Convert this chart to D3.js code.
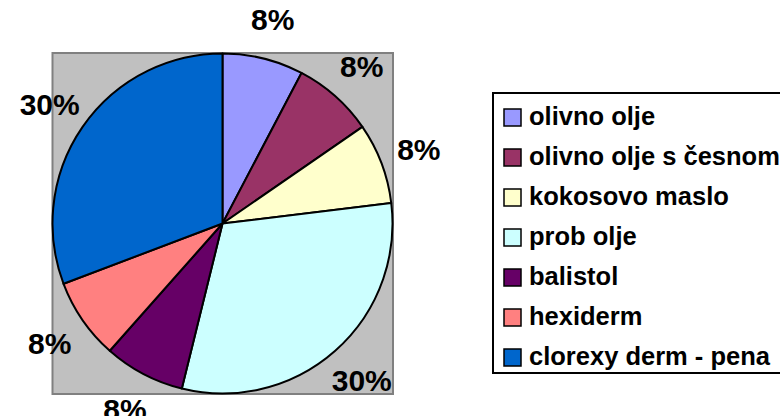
<!DOCTYPE html>
<html lang="sl">
<head>
    <meta charset="utf-8">
    <title>Pie</title>
    <script src="https://d3js.org/d3.v7.min.js" charset="utf-8"></script>
    <style>
        body { margin: 0; background: #fff; }
        text { font-family: "Liberation Sans", Arial, sans-serif; font-weight: bold; }
    </style>
</head>
<body>
<script>

    var categories = ["olivno olje", "olivno olje s česnom", "kokosovo maslo", "prob olje", "balistol", "hexiderm", "clorexy derm - pena"]
    var shares = [7.7, 7.7, 7.7, 30.8, 7.7, 7.7, 30.8]
    var labels = ["8%", "8%", "8%", "30%", "8%", "8%", "30%"]
    var colors = ["#9999ff", "#993366", "#ffffcc", "#ccffff", "#660066", "#ff8080", "#0066cc"]

    var w = 780, h = 416
    var cx = 222.5, cy = 223.5, r = 170

    var svg = d3.select("body").append("svg").attr("width", w).attr("height", h)

    // plot area
    svg.append("rect")
        .attr("x", 52.5).attr("y", 53).attr("width", 340.5).attr("height", 341)
        .attr("fill", "#c0c0c0").attr("stroke", "#808080").attr("stroke-width", 2)

    var pie = d3.pie().sort(null).value(function (d) { return d })
    var arcs = pie(shares)
    var arc = d3.arc().innerRadius(0).outerRadius(r)
    var labelArc = d3.arc().innerRadius(210).outerRadius(210)

    var g = svg.append("g").attr("transform", "translate(" + cx + "," + cy + ")")

    g.selectAll("path").data(arcs).enter().append("path")
        .attr("d", arc)
        .attr("fill", function (d, i) { return colors[i] })
        .attr("stroke", "#000").attr("stroke-width", 2).attr("stroke-linejoin", "round")

    g.selectAll("text.pct").data(arcs).enter().append("text")
        .attr("class", "pct")
        .attr("transform", function (d) { return "translate(" + labelArc.centroid(d) + ")" })
        .attr("text-anchor", "middle")
        .attr("dy", "0.36em")
        .attr("font-size", "30px")
        .attr("fill", "#000")
        .text(function (d, i) { return labels[i] })

    // legend
    var lx = 493, ly = 93
    svg.append("rect")
        .attr("x", lx).attr("y", ly).attr("width", 320).attr("height", 280)
        .attr("fill", "#fff").attr("stroke", "#000").attr("stroke-width", 2)

    var rowY = d3.scalePoint().domain(categories).range([ly + 32, ly + 272])

    var items = svg.selectAll("g.item").data(categories).enter().append("g")
        .attr("class", "item")
        .attr("transform", function (d) { return "translate(" + lx + "," + rowY(d) + ")" })

    items.append("rect")
        .attr("x", 11).attr("y", -16).attr("width", 17).attr("height", 17)
        .attr("fill", function (d, i) { return colors[i] })
        .attr("stroke", "#000").attr("stroke-width", 1.5)

    items.append("text")
        .attr("x", 36).attr("y", 0)
        .attr("font-size", "25.5px")
        .attr("fill", "#000")
        .text(function (d) { return d })

</script>
</body>
</html>
